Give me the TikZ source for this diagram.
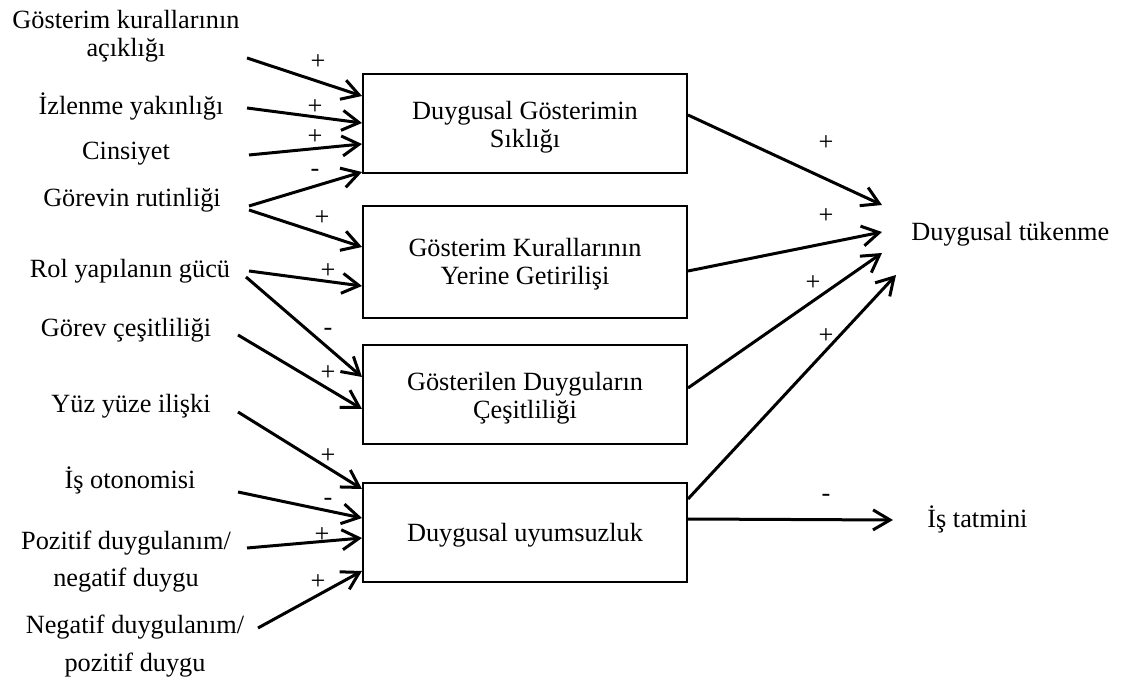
\documentclass[tikz,border=0pt]{standalone}
\usepackage{fontspec}
\setmainfont{Liberation Serif}
\usetikzlibrary{arrows.meta,calc}
\begin{document}
\begin{tikzpicture}[x=0.5pt,y=-0.5pt,
  lbl/.style={font=\fontsize{13.15}{14}\selectfont, inner sep=0pt, anchor=base, align=center},
  sgn/.style={font=\fontsize{13.15}{14}\selectfont, inner sep=0pt},
  box/.style={draw, line width=1pt, minimum width=162pt, inner sep=0pt},
  arr/.style={line width=1.5pt, -{Straight Barb[length=8.5pt,width=10pt]}}
]
\useasboundingbox (0,0) rectangle (1121,684);

% boxes
\node[box, minimum height=49.5pt] (b1) at (525,123.5) {};
\node[box, minimum height=56pt]   (b2) at (525,262) {};
\node[box, minimum height=49.5pt] (b3) at (525,394.5) {};
\node[box, minimum height=49.5pt] (b4) at (525,532.5) {};
% (base anchor of a multi-line node = baseline of its last line)
\node[lbl] (t1) at (525,148) {Duygusal Gösterimin\\Sıklığı};
\node[lbl] (t2) at (525,285) {Gösterim Kurallarının\\Yerine Getirilişi};
\node[lbl] (t3) at (525,419) {Gösterilen Duyguların\\Çeşitliliği};
\node[lbl] (t4) at (525,542) {Duygusal uyumsuzluk};

% left labels
\node[lbl] (l1) at (126,57) {Gösterim kurallarının\\açıklığı};
\node[lbl] (l2) at (131,115) {İzlenme yakınlığı};
\node[lbl] (l3) at (126,160) {Cinsiyet};
\node[lbl] (l4) at (132,207) {Görevin rutinliği};
\node[lbl] (l5) at (130,278) {Rol yapılanın gücü};
\node[lbl] (l6) at (126,337) {Görev çeşitliliği};
\node[lbl] (l7) at (131,413) {Yüz yüze ilişki};
\node[lbl] (l8) at (130,489) {İş otonomisi};
\node[lbl] (l9) at (126,587) {Pozitif duygulanım/\\[4.5pt]negatif duygu};
\node[lbl] (l10) at (135,671) {Negatif duygulanım/\\[5pt]pozitif duygu};

% right labels
\node[lbl, anchor=base west] (dt) at (911,241) {Duygusal tükenme};
\node[lbl, anchor=base west] (it) at (927,528) {İş tatmini};

% start points of input arrows
\coordinate (s1) at (247,58);
\coordinate (s2) at (247,108);
\coordinate (s3) at (249,155);
\coordinate (s4) at (249,206);
\coordinate (s5) at (249,210);
\coordinate (s6) at (249,271);
\coordinate (s7) at (246,277);
\coordinate (s8) at (238,335);
\coordinate (s9) at (238,412);
\coordinate (s10) at (238,492);
\coordinate (s11) at (247,548);
\coordinate (s12) at (258,628);

% tips of output arrows
\coordinate (e1) at (882,205);
\coordinate (e2) at (882,232);
\coordinate (e3) at (882,253);
\coordinate (e4) at (896,275);
\coordinate (e5) at (893,520);

% input arrows
\draw[arr] (s1) -- ($(b1.north west)+(0,23)$);
\draw[arr] (s2) -- ($(b1.north west)+(0,50)$);
\draw[arr] (s3) -- ($(b1.north west)+(0,71)$);
\draw[arr] (s4) -- ($(b1.north west)+(0,99)$);
\draw[arr] (s5) -- ($(b2.north west)+(0,42)$);
\draw[arr] (s6) -- ($(b2.north west)+(0,81)$);
\draw[arr] (s7) -- ($(b3.north west)+(0,33)$);
\draw[arr] (s8) -- ($(b3.north west)+(0,65)$);
\draw[arr] (s9) -- ($(b4.north west)+(0,7)$);
\draw[arr] (s10) -- ($(b4.north west)+(0,36)$);
\draw[arr] (s11) -- ($(b4.north west)+(0,56)$);
\draw[arr] (s12) -- ($(b4.north west)+(0,89)$);

% output arrows
\draw[arr] ($(b1.north east)+(0,42)$) -- (e1);
\draw[arr] ($(b2.north east)+(0,66)$) -- (e2);
\draw[arr] ($(b3.north east)+(0,44)$) -- (e3);
\draw[arr] ($(b4.north east)+(0,17)$) -- (e4);
\draw[arr] ($(b4.north east)+(0,37)$) -- (e5);

% signs
\node[sgn] (p1) at (318,62) {+};
\node[sgn] (p2) at (315,107) {+};
\node[sgn] (p3) at (315,137) {+};
\node[sgn] (p4) at (315,173) {-};
\node[sgn] (p5) at (322,218) {+};
\node[sgn] (p6) at (328,271) {+};
\node[sgn] (p7) at (328,332) {-};
\node[sgn] (p8) at (328,373) {+};
\node[sgn] (p9) at (328,456) {+};
\node[sgn] (p10) at (328,502) {-};
\node[sgn] (p11) at (322,535) {+};
\node[sgn] (p12) at (318,582) {+};
\node[sgn] (q1) at (826,143) {+};
\node[sgn] (q2) at (826,216) {+};
\node[sgn] (q3) at (813,283) {+};
\node[sgn] (q4) at (826,336) {+};
\node[sgn] (q5) at (826,498) {-};
\end{tikzpicture}
\end{document}
